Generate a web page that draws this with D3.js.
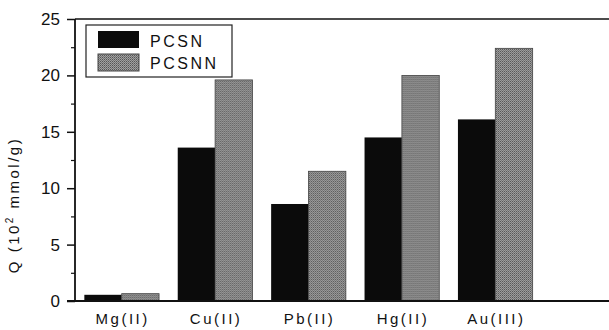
<!DOCTYPE html>
<html>
<head>
<meta charset="utf-8">
<script src="https://cdn.jsdelivr.net/npm/d3@7"></script>
<style>
  body { margin: 0; background: #fff; }
  text { font-family: "Liberation Sans", Arial, sans-serif; fill: #111; }
</style>
</head>
<body>
<svg width="609" height="330"></svg>
<script>
const ions = ['Mg(II)', 'Cu(II)', 'Pb(II)', 'Hg(II)', 'Au(III)'];
const seriesNames = ['PCSN', 'PCSNN'];
const pcsn = [0.55, 13.6, 8.6, 14.5, 16.1];
const pcsnn = [0.65, 19.6, 11.5, 20.0, 22.4];
const yTicks = [0, 5, 10, 15, 20, 25];
const yMinor = [2.5, 7.5, 12.5, 17.5, 22.5];

const svg = d3.select('svg');
const width = +svg.attr('width');
const height = +svg.attr('height');

const margin = { left: 75, top: 19, right: 0, bottom: 29 };
const innerHeight = height - margin.top - margin.bottom;

const data = ions.map((ion, i) => ({ ion, values: [pcsn[i], pcsnn[i]] }));

// gray dithered look for PCSNN
const defs = svg.append('defs');
const pat = defs.append('pattern')
  .attr('id', 'dots')
  .attr('width', 2).attr('height', 2)
  .attr('patternUnits', 'userSpaceOnUse');
pat.append('rect').attr('width', 2).attr('height', 2).attr('fill', '#a0a0a0');
pat.append('rect').attr('width', 1).attr('height', 1).attr('fill', '#555');
pat.append('rect').attr('x', 1).attr('y', 1).attr('width', 1).attr('height', 1).attr('fill', '#747474');
const fills = ['#0b0b0b', 'url(#dots)'];

//For x scale:
const xScale = d3.scaleBand()
  .domain(ions)
  .range([0, 467])
  .paddingInner(0.2)
  .paddingOuter(0.1);

const xSub = d3.scaleBand()
  .domain(seriesNames)
  .range([0, xScale.bandwidth()]);

//For y scale:
const yScale = d3.scaleLinear()
  .domain([0, 25])
  .range([innerHeight, 0]);

const g = svg.append('g')
  .attr('transform', `translate(${margin.left}, ${margin.top})`);

// bars
const groups = g.selectAll('.grp').data(data)
  .enter().append('g')
    .attr('class', 'grp')
    .attr('transform', d => `translate(${xScale(d.ion)}, 0)`);

groups.selectAll('rect')
  .data(d => d.values.map((v, i) => ({ key: seriesNames[i], v, i })))
  .enter().append('rect')
    .attr('x', d => xSub(d.key))
    .attr('y', d => yScale(d.v))
    .attr('width', xSub.bandwidth())
    .attr('height', d => innerHeight - yScale(d.v))
    .attr('fill', d => fills[d.i])
    .attr('stroke', d => d.i ? '#444' : 'none')
    .attr('stroke-width', 0.8);

// y axis
const yAxis = d3.axisLeft(yScale)
  .tickValues(yTicks)
  .tickSize(8)
  .tickPadding(7);
const yAxisG = g.append('g').call(yAxis);
yAxisG.select('.domain').remove();
yAxisG.selectAll('line').attr('stroke', '#111').attr('stroke-width', 1.5);
yAxisG.selectAll('text')
  .attr('font-size', 17)
  .attr('fill', '#111');

const yMinorG = g.append('g').call(d3.axisLeft(yScale).tickValues(yMinor).tickSize(4).tickFormat(''));
yMinorG.select('.domain').remove();
yMinorG.selectAll('line').attr('stroke', '#111').attr('stroke-width', 1.2);

// frame lines
g.append('line')
  .attr('x1', 0).attr('x2', 0)
  .attr('y1', 0).attr('y2', innerHeight)
  .attr('stroke', '#111').attr('stroke-width', 1.8);
g.append('line')
  .attr('x1', 0).attr('x2', width - margin.left)
  .attr('y1', 0).attr('y2', 0)
  .attr('stroke', '#111').attr('stroke-width', 1.5);
g.append('line')
  .attr('x1', -8).attr('x2', width - margin.left)
  .attr('y1', innerHeight).attr('y2', innerHeight)
  .attr('stroke', '#111').attr('stroke-width', 1.8);

// x labels
g.selectAll('.xlab').data(ions)
  .enter().append('text')
    .attr('class', 'xlab')
    .attr('x', d => xScale(d) + xScale.bandwidth() / 2 + 1)
    .attr('y', innerHeight + 23)
    .attr('text-anchor', 'middle')
    .attr('font-size', 15)
    .style('letter-spacing', '2.5px')
    .text(d => d);

// y label
svg.append('text')
  .attr('transform', 'translate(19, 205) rotate(-90)')
  .attr('text-anchor', 'middle')
  .attr('font-size', 15)
  .style('letter-spacing', '2.5px')
  .html('Q (10<tspan dy="-6" font-size="10">2</tspan><tspan dy="6"> mmol/g)</tspan>');

// legend
const legend = svg.append('g').attr('transform', 'translate(86, 25)');
legend.append('rect')
  .attr('width', 146).attr('height', 52)
  .attr('fill', '#fff')
  .attr('stroke', '#222').attr('stroke-width', 1.2);
seriesNames.forEach((name, i) => {
  legend.append('rect')
    .attr('x', 12).attr('y', 6 + i * 23)
    .attr('width', 41).attr('height', 17)
    .attr('fill', fills[i])
    .attr('stroke', i ? '#444' : 'none');
  legend.append('text')
    .attr('x', 64).attr('y', 22 + i * 22)
    .attr('font-size', 16)
    .style('letter-spacing', '2.5px')
    .text(name);
});
</script>
</body>
</html>
